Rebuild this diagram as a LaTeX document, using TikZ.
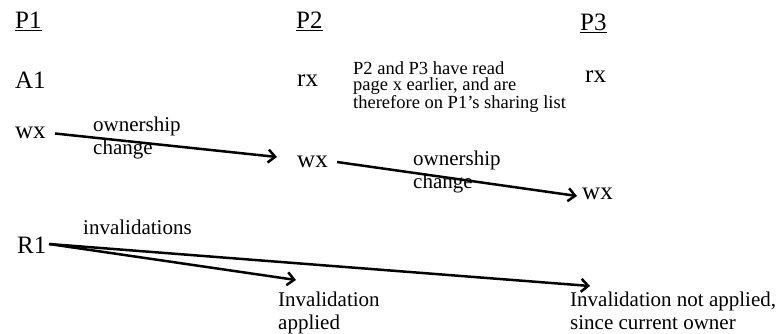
\documentclass[tikz,border=0pt]{standalone}
\usepackage{fontspec}
\setmainfont{Liberation Serif}
\usetikzlibrary{arrows.meta}
\begin{document}
\begin{tikzpicture}[x=1pt,y=-1pt,
  big/.style={font=\fontsize{25}{28}\selectfont, inner sep=0pt, anchor=base west},
  lbl/.style={font=\fontsize{21}{23}\selectfont, inner sep=0pt, anchor=base west, align=left},
  note/.style={font=\fontsize{18.5}{16.5}\selectfont, inner sep=0pt, anchor=base west, align=left},
  arr/.style={line width=2.5pt, -{Straight Barb[length=7pt,width=13pt,line width=2.5pt]}}]
\useasboundingbox (0,0) rectangle (780,334);
% headers
\node[big] (p1) at (15,29) {\underline{P1}};
\node[big] (p2) at (296,29) {\underline{P2}};
\node[big] (p3) at (580,31) {\underline{P3}};
% row 1
\node[big] (a1) at (15,89) {A1};
\node[big] (rx2) at (297,87) {rx};
\node[big] (rx3) at (585,83) {rx};
\node[note] (nt) at (353,109) {P2 and P3 have read\\page x earlier, and are\\therefore on P1’s sharing list};
% writes
\node[big] (wx1) at (15,139) {wx};
\node[big] (wx2) at (297,168) {wx};
\node[big] (wx3) at (582,200) {wx};
\coordinate (s1) at (55,133.5);
\coordinate (e1) at (277,157);
\coordinate (s2) at (337,162);
\coordinate (e2) at (577,196);
\draw[arr] (s1) -- (e1);
\draw[arr] (s2) -- (e2);
\node[lbl] (oc1) at (93,155) {ownership\\change};
\node[lbl] (oc2) at (413,189) {ownership\\change};
% invalidations
\node[big] (r1) at (17,254) {R1};
\node[lbl] (inv) at (83,234) {invalidations};
\coordinate (s3) at (49,244);
\coordinate (e3) at (296,280);
\coordinate (e4) at (590,286);
\draw[arr] (s3) -- (e3);
\draw[arr] (s3) -- (e4);
\node[lbl] (ia) at (278,329) {Invalidation\\applied};
\node[lbl] (ina) at (570,329) {Invalidation not applied,\\since current owner};
\end{tikzpicture}
\end{document}
